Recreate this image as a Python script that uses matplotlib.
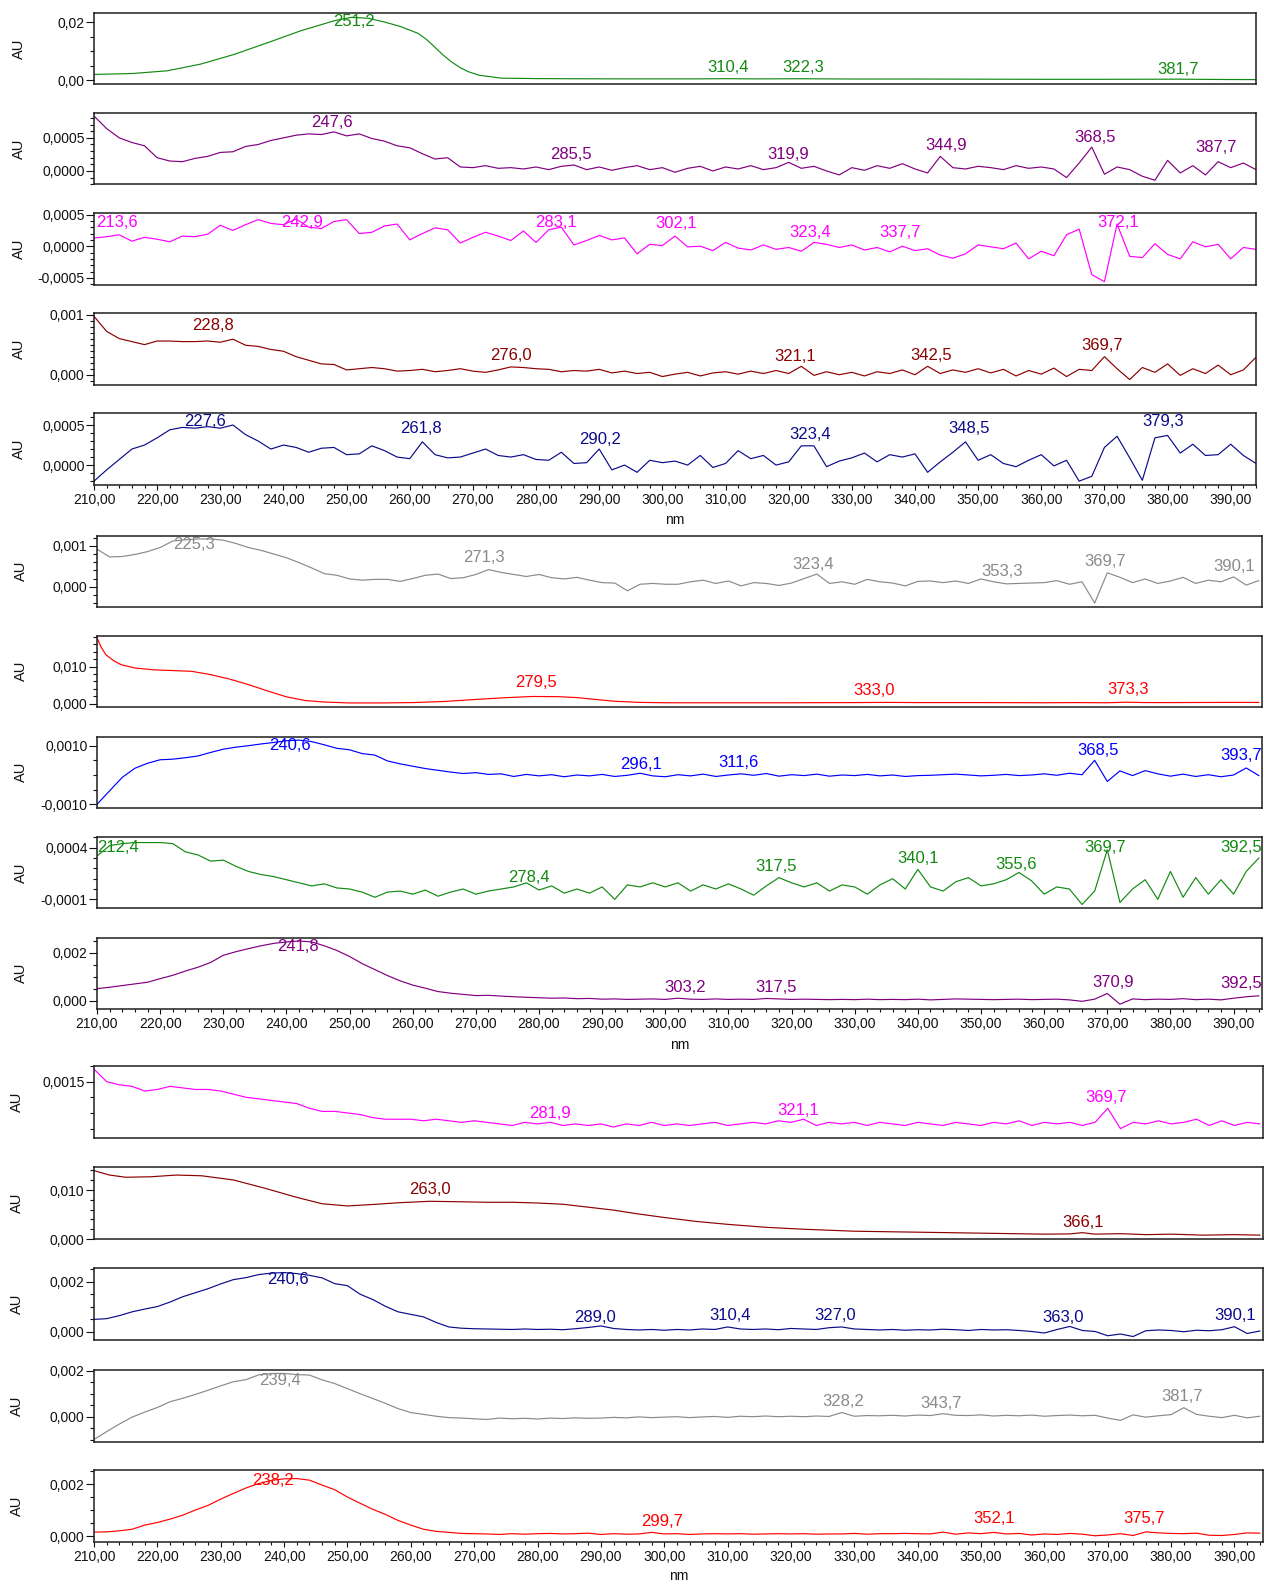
import numpy as np
import matplotlib
matplotlib.use("Agg")
import matplotlib.pyplot as plt
import matplotlib.transforms as mtransforms
from matplotlib.ticker import FixedLocator, MultipleLocator, NullLocator

plt.rcParams["font.family"] = ["Liberation Sans", "DejaVu Sans"]

# ======================= DATA =======================
# Noisy spectra are sampled on a regular wavelength grid (nm)
GRID_START_NM = 210.0
GRID_STEP_NM = 2.0

# Panel 1 (smooth) - wavelengths (nm) and absorbance (AU x 1e-3)
p01_nm = [210, 216.2, 221.6, 226.9, 232.2, 237.5, 242.8, 248.1, 250.7, 253.4,
          256, 258.6, 261.3, 262.6, 263.9, 265.2, 266.6, 268, 269.3, 271,
          274.5, 280, 285, 295, 305, 310, 315, 322, 330, 340,
          350, 360, 370, 381.7, 388, 394]
p01_au_e3 = [2.07, 2.41, 3.33, 5.63, 8.97, 12.99, 17.13, 20.57, 21.7, 21.4,
             20.1, 18.5, 16.2, 14.2, 11.6, 8.9, 6.4, 4.4, 3.0, 1.8,
             0.8, 0.65, 0.6, 0.55, 0.55, 0.62, 0.55, 0.6, 0.5, 0.5,
             0.45, 0.4, 0.4, 0.45, 0.35, 0.3]

# Panels on the 2 nm grid - absorbance in AU x 1e-4
p02_au_e4 = [8.3, 6.4, 5.0, 4.3, 3.8, 2.0, 1.5, 1.4, 1.9, 2.2,
             2.8, 2.9, 3.7, 4.0, 4.6, 5.0, 5.4, 5.6, 5.5, 5.9,
             5.3, 5.6, 4.9, 4.5, 3.8, 3.5, 2.6, 1.8, 2.0, 0.6,
             0.5, 0.8, 0.4, 0.5, 0.3, 0.6, 0.2, 0.7, 0.9, 0.2,
             0.6, 0.1, 0.5, 0.8, 0.2, 0.5, -0.2, 0.4, 0.7, 0.0,
             0.6, 0.3, 0.8, 0.2, 0.5, 1.3, 0.4, 0.7, 0.0, -0.6,
             0.5, 0.1, 0.8, 0.4, 1.1, 0.3, -0.3, 2.2, 0.5, 0.3,
             0.7, 0.5, 0.2, 0.8, 0.4, 0.6, 0.3, -1.0, 1.2, 3.6,
             -0.5, 0.6, 0.2, -0.8, -1.4, 1.6, -0.3, 0.8, -0.6, 1.4,
             0.5, 1.2, 0.2]

p03_au_e4 = [1.3, 1.5, 1.8, 0.8, 1.4, 1.1, 0.7, 1.6, 1.5, 1.9,
             3.3, 2.5, 3.4, 4.2, 3.6, 3.4, 4.3, 3.0, 2.8, 3.9,
             4.2, 2.0, 2.2, 3.2, 3.5, 1.0, 2.0, 2.9, 2.6, 0.5,
             1.4, 2.2, 1.6, 0.9, 2.4, 0.6, 2.6, 3.0, 0.2, 0.9,
             1.7, 1.0, 1.3, -1.2, 0.3, 0.1, 1.6, -0.1, 0.0, -0.7,
             0.6, -0.3, -0.6, 0.2, -0.5, -0.2, -0.8, 0.6, 0.3, -0.2,
             0.2, -0.6, -0.2, -0.9, 0.0, -0.7, -0.4, -1.4, -1.9, -1.2,
             0.2, -0.1, -0.4, 0.5, -2.0, -0.8, -1.5, 1.8, 2.7, -4.5,
             -5.6, 3.5, -1.6, -1.8, 0.4, -1.3, -2.0, 0.7, -0.1, 0.3,
             -2.0, -0.2, -0.5]

p04_au_e4 = [9.7, 7.2, 6.0, 5.5, 5.0, 5.6, 5.6, 5.5, 5.5, 5.6,
             5.4, 5.9, 4.9, 4.7, 4.2, 3.9, 3.0, 2.4, 1.8, 1.7,
             0.8, 1.0, 1.2, 1.0, 0.6, 0.7, 0.9, 0.5, 0.7, 1.0,
             0.6, 0.4, 0.8, 1.3, 1.2, 1.0, 0.9, 0.5, 0.7, 0.6,
             0.9, 0.3, 0.6, 0.2, 0.4, -0.3, 0.1, 0.4, -0.2, 0.3,
             0.5, 0.1, 0.6, 0.2, 0.7, 0.2, 1.4, -0.1, 0.5, 0.0,
             0.4, -0.2, 0.5, 0.2, 0.8, 0.0, 1.4, 0.2, 0.8, 0.4,
             1.0, 0.3, 0.9, -0.2, 0.7, 0.1, 1.1, -0.3, 0.9, 0.7,
             3.0, 1.0, -0.8, 1.2, 0.4, 1.8, -0.1, 1.0, 0.2, 1.6,
             0.0, 0.8, 2.9]

p05_au_e4 = [-2.0, -0.6, 0.7, 2.0, 2.5, 3.4, 4.4, 4.7, 4.6, 4.8,
             4.6, 5.0, 3.8, 3.0, 2.0, 2.5, 2.2, 1.6, 2.1, 2.2,
             1.3, 1.4, 2.4, 1.8, 1.0, 0.8, 2.9, 1.3, 0.9, 1.0,
             1.5, 2.0, 1.2, 1.0, 1.3, 0.7, 0.6, 1.6, 0.2, 0.3,
             2.0, -0.6, 0.0, -0.9, 0.6, 0.3, 0.5, 0.0, 1.2, -0.3,
             0.2, 1.8, 0.8, 1.2, 0.0, 0.4, 2.4, 2.4, -0.2, 0.5,
             0.9, 1.5, 0.4, 1.3, 1.0, 1.4, -0.9, 0.4, 1.6, 2.9,
             0.6, 1.3, 0.2, -0.2, 0.6, 1.3, -0.1, 0.6, -2.0, -1.4,
             2.2, 3.6, 0.9, -1.9, 3.4, 3.7, 1.5, 2.6, 1.2, 1.3,
             2.6, 1.2, 0.2]

p06_au_e4 = [9.2, 7.3, 7.4, 7.9, 8.6, 9.6, 11.2, 11.5, 11.7, 11.7,
             11.4, 10.6, 9.6, 8.9, 8.0, 7.1, 5.9, 4.6, 3.2, 2.8,
             1.9, 1.6, 1.8, 1.8, 1.3, 2.0, 2.8, 3.1, 2.0, 2.2,
             3.0, 4.2, 3.5, 3.0, 2.5, 3.0, 2.2, 1.9, 2.3, 1.6,
             1.0, 0.9, -1.0, 0.6, 0.8, 0.6, 0.6, 1.2, 1.6, 0.8,
             1.4, 0.2, 1.0, 0.8, 0.3, 0.9, 2.0, 3.1, 0.8, 1.2,
             0.6, 1.8, 1.2, 0.9, 0.2, 1.3, 1.4, 1.0, 1.4, 0.8,
             1.9, 1.2, 0.7, 0.8, 0.9, 1.0, 1.5, 0.6, 1.2, -4.0,
             3.4, 2.3, 1.0, 1.9, 0.8, 1.4, 2.3, 0.8, 1.6, 1.2,
             2.4, 0.4, 1.5]

# Panel 7 (smooth) - AU x 1e-3
p07_nm = [210, 210.6, 211.4, 212.6, 213.8, 216, 219, 222, 225, 228,
          231, 234, 237, 240, 243, 246, 250, 255, 260, 265,
          270, 275, 279, 283, 286, 289, 292, 296, 300, 310,
          320, 330, 335, 340, 350, 360, 365, 370, 373, 376,
          380, 390, 394]
p07_au_e3 = [17.8, 15.4, 13.2, 11.6, 10.5, 9.6, 9.1, 8.9, 8.7, 7.8,
             6.6, 5.1, 3.4, 1.8, 0.8, 0.4, 0.15, 0.15, 0.25, 0.55,
             1.1, 1.6, 1.9, 1.85, 1.6, 1.1, 0.6, 0.3, 0.2, 0.2,
             0.2, 0.25, 0.3, 0.25, 0.25, 0.2, 0.25, 0.2, 0.35, 0.25,
             0.25, 0.3, 0.3]

p08_au_e4 = [-10.0, -5.4, -0.8, 2.3, 4.0, 5.2, 5.4, 5.9, 6.5, 7.7,
             8.8, 9.5, 10.0, 10.6, 11.1, 11.7, 11.9, 11.4, 10.3, 9.1,
             8.6, 7.3, 6.8, 4.8, 3.8, 3.0, 2.2, 1.6, 1.0, 0.5,
             0.8, 0.2, 0.4, -0.5, 0.2, -0.3, 0.1, -0.6, 0.0, -0.3,
             0.2, -0.5, -0.1, 0.6, -0.3, -0.6, 0.1, -0.3, 0.3, -0.5,
             0.0, 0.4, -0.1, 0.5, -0.4, 0.1, -0.2, 0.3, -0.4, 0.0,
             -0.2, 0.2, -0.3, 0.0, -0.5, -0.2, -0.1, 0.1, 0.3, 0.0,
             -0.3, -0.1, 0.2, -0.2, 0.0, 0.4, -0.1, 0.6, 0.1, 5.0,
             -2.2, 1.4, -0.2, 1.5, 0.4, -0.4, 0.3, -0.5, 0.1, -0.6,
             0.0, 2.4, -0.2]

p09_au_e4 = [3.2, 4.2, 4.4, 4.5, 4.5, 4.5, 4.4, 3.6, 3.3, 2.7,
             2.8, 2.2, 1.7, 1.4, 1.2, 0.9, 0.6, 0.3, 0.5, 0.1,
             0.0, -0.3, -0.8, -0.3, -0.2, -0.5, -0.1, -0.7, -0.3, 0.0,
             -0.5, -0.2, 0.0, 0.2, 0.6, -0.1, 0.3, -0.4, 0.0, -0.4,
             0.2, -1.0, 0.4, 0.2, 0.6, 0.2, 0.6, -0.2, 0.4, 0.0,
             0.5, 0.0, -0.6, 0.3, 1.1, 0.6, 0.2, 0.6, -0.2, 0.4,
             0.2, -0.5, 0.4, 1.0, 0.0, 1.9, 0.2, -0.2, 0.7, 1.1,
             0.3, 0.5, 0.9, 1.6, 0.8, -0.5, 0.2, 0.0, -1.5, -0.2,
             3.8, -1.3, 0.0, 0.9, -1.0, 1.7, -0.8, 1.1, -0.5, 0.9,
             -0.5, 1.7, 3.0]

p10_au_e4 = [5.0, 5.6, 6.3, 7.0, 7.7, 9.2, 10.6, 12.4, 14.0, 16.0,
             19.0, 20.5, 21.8, 23.0, 24.0, 24.6, 25.0, 24.6, 23.0, 21.0,
             18.5, 15.5, 13.0, 10.5, 8.3, 6.5, 5.2, 3.8, 3.1, 2.6,
             2.1, 2.2, 1.9, 1.6, 1.4, 1.2, 1.0, 1.1, 0.8, 0.9,
             0.6, 0.7, 0.5, 0.6, 0.7, 0.5, 1.0, 0.6, 0.5, 0.7,
             0.5, 0.6, 0.5, 0.9, 0.7, 0.5, 0.6, 0.5, 0.4, 0.5,
             0.4, 0.6, 0.4, 0.5, 0.4, 0.6, 0.3, 0.5, 0.7, 0.6,
             0.5, 0.4, 0.5, 0.6, 0.4, 0.5, 0.6, 0.3, -0.3, 0.6,
             3.0, -1.5, 0.7, 0.4, 0.6, 0.5, 0.8, 0.4, 0.6, 0.3,
             1.0, 1.6, 2.0]

p11_au_e4 = [15.8, 15.0, 14.8, 14.7, 14.4, 14.5, 14.7, 14.6, 14.5, 14.5,
             14.4, 14.2, 14.0, 13.9, 13.8, 13.7, 13.6, 13.3, 13.1, 13.1,
             13.0, 12.9, 12.7, 12.6, 12.6, 12.6, 12.5, 12.6, 12.5, 12.4,
             12.5, 12.4, 12.3, 12.2, 12.4, 12.3, 12.4, 12.2, 12.3, 12.2,
             12.3, 12.1, 12.3, 12.2, 12.4, 12.2, 12.3, 12.2, 12.3, 12.4,
             12.2, 12.3, 12.4, 12.3, 12.5, 12.4, 12.6, 12.2, 12.4, 12.3,
             12.4, 12.2, 12.4, 12.3, 12.2, 12.4, 12.3, 12.2, 12.4, 12.3,
             12.2, 12.4, 12.3, 12.5, 12.2, 12.4, 12.3, 12.4, 12.2, 12.4,
             13.3, 12.0, 12.4, 12.3, 12.5, 12.3, 12.4, 12.6, 12.2, 12.5,
             12.2, 12.4, 12.3]

# Panel 12 (smooth) - AU x 1e-3
p12_nm = [210, 212.4, 215, 219, 223, 227, 232, 237, 242, 246,
          250, 254, 258, 263, 268, 272, 276, 280, 284, 288,
          292, 296, 300, 305, 310, 316, 322, 330, 340, 350,
          360, 364, 366, 368, 372, 376, 380, 385, 390, 394]
p12_au_e3 = [13.95, 13.06, 12.6, 12.7, 13.05, 12.9, 12.05, 10.35, 8.5, 7.2,
             6.75, 7.05, 7.4, 7.7, 7.6, 7.5, 7.5, 7.35, 7.1, 6.5,
             5.9, 5.1, 4.4, 3.6, 3.0, 2.4, 2.0, 1.6, 1.4, 1.2,
             1.0, 1.05, 1.3, 1.0, 1.1, 0.9, 1.0, 0.8, 0.9, 0.8]

p13_au_e4 = [5.0, 5.3, 6.5, 8.0, 9.1, 10.1, 11.9, 14.0, 15.6, 17.2,
             19.1, 20.8, 21.6, 22.8, 23.4, 23.6, 23.2, 22.5, 21.5, 19.2,
             18.4, 15.0, 12.9, 10.2, 8.0, 7.0, 6.0, 3.8, 2.0, 1.5,
             1.3, 1.2, 1.1, 1.0, 1.2, 1.0, 1.1, 0.9, 1.3, 1.8,
             2.4, 1.4, 1.0, 0.8, 1.0, 0.7, 1.0, 0.8, 1.2, 1.0,
             2.0, 1.2, 1.0, 1.2, 0.9, 1.4, 1.2, 1.0, 1.7, 2.0,
             1.2, 1.0, 0.8, 1.0, 0.7, 0.9, 0.8, 1.1, 0.9, 0.6,
             1.0, 0.8, 0.9, 0.6, 0.2, -0.4, 1.0, 2.2, 0.6, 0.2,
             -1.5, -0.8, -1.8, 0.5, 0.8, 0.6, 0.1, 0.7, 0.5, 0.9,
             2.1, -0.6, 0.4]

p14_au_e4 = [-9.9, -6.5, -3.2, -0.2, 2.0, 4.0, 6.5, 8.0, 9.7, 11.5,
             13.4, 15.2, 16.1, 18.2, 18.8, 18.8, 18.3, 18.1, 16.0, 14.4,
             12.2, 10.0, 7.9, 5.8, 3.5, 1.8, 1.0, 0.2, -0.4, -0.6,
             -0.9, -1.2, -0.6, -0.9, -0.7, -1.0, -0.6, -0.8, -0.5, -0.7,
             -0.6, -0.3, -0.5, -0.1, -0.4, -0.2, 0.0, -0.4, -0.1, 0.1,
             -0.3, 0.2, 0.0, 0.3, 0.0, 0.2, 0.0, 0.3, 0.1, 1.8,
             0.2, 0.5, 0.4, 0.6, 0.3, 0.7, 0.5, 1.3, 0.6, 0.5,
             0.8, 0.3, 0.6, 0.4, 0.7, 0.2, 0.5, 0.7, 0.4, 0.6,
             -0.6, -1.6, 0.8, -0.2, 0.4, 0.9, 3.9, 1.0, 0.2, -0.4,
             0.6, -0.5, 0.2]

p15_au_e4 = [1.5, 1.6, 2.0, 2.6, 4.2, 5.2, 6.5, 8.0, 10.0, 11.8,
             14.2, 16.4, 18.5, 20.2, 21.4, 22.0, 22.1, 21.5, 19.6, 17.8,
             15.0, 12.6, 10.3, 8.3, 6.0, 4.2, 2.6, 1.8, 1.4, 1.0,
             0.9, 0.8, 0.6, 0.9, 0.7, 0.9, 1.0, 0.8, 0.9, 1.1,
             0.6, 0.9, 0.7, 0.8, 1.4, 0.8, 0.9, 0.6, 0.8, 0.9,
             0.8, 0.9, 0.7, 0.8, 0.9, 0.8, 0.9, 0.7, 0.8, 0.8,
             1.0, 0.7, 0.9, 0.9, 1.0, 0.9, 0.8, 1.5, 0.7, 1.2,
             0.9, 1.4, 0.8, 1.0, 0.4, 0.8, 0.6, 1.0, 0.7, 0.1,
             0.4, 0.9, 0.2, 1.6, 1.2, 1.0, 0.9, 1.1, 0.3, 0.2,
             0.6, 1.2, 1.1]

# Peak annotations (wavelength labels)
p01_peaks = ["251,2", "310,4", "322,3", "381,7"]
p02_peaks = ["247,6", "285,5", "319,9", "344,9", "368,5", "387,7"]
p03_peaks = ["213,6", "242,9", "283,1", "302,1", "323,4", "337,7", "372,1"]
p04_peaks = ["228,8", "276,0", "321,1", "342,5", "369,7"]
p05_peaks = ["227,6", "261,8", "290,2", "323,4", "348,5", "379,3"]
p06_peaks = ["225,3", "271,3", "323,4", "353,3", "369,7", "390,1"]
p07_peaks = ["279,5", "333,0", "373,3"]
p08_peaks = ["240,6", "296,1", "311,6", "368,5", "393,7"]
p09_peaks = ["212,4", "278,4", "317,5", "340,1", "355,6", "369,7", "392,5"]
p10_peaks = ["241,8", "303,2", "317,5", "370,9", "392,5"]
p11_peaks = ["281,9", "321,1", "369,7"]
p12_peaks = ["263,0", "366,1"]
p13_peaks = ["240,6", "289,0", "310,4", "327,0", "363,0", "390,1"]
p14_peaks = ["239,4", "328,2", "343,7", "381,7"]
p15_peaks = ["238,2", "299,7", "352,1", "375,7"]

# Y tick values / labels
p01_yt, p01_ytl = [0.0, 0.02], ["0,00", "0,02"]
p02_yt, p02_ytl = [0.0, 0.0005], ["0,0000", "0,0005"]
p03_yt, p03_ytl = [-0.0005, 0.0, 0.0005], ["-0,0005", "0,0000", "0,0005"]
p04_yt, p04_ytl = [0.0, 0.001], ["0,000", "0,001"]
p05_yt, p05_ytl = [0.0, 0.0005], ["0,0000", "0,0005"]
p06_yt, p06_ytl = [0.0, 0.001], ["0,000", "0,001"]
p07_yt, p07_ytl = [0.0, 0.01], ["0,000", "0,010"]
p08_yt, p08_ytl = [-0.001, 0.001], ["-0,0010", "0,0010"]
p09_yt, p09_ytl = [-0.0001, 0.0004], ["-0,0001", "0,0004"]
p10_yt, p10_ytl = [0.0, 0.002], ["0,000", "0,002"]
p11_yt, p11_ytl = [0.0015], ["0,0015"]
p12_yt, p12_ytl = [0.0, 0.01], ["0,000", "0,010"]
p13_yt, p13_ytl = [0.0, 0.002], ["0,000", "0,002"]
p14_yt, p14_ytl = [0.0, 0.002], ["0,000", "0,002"]
p15_yt, p15_ytl = [0.0, 0.002], ["0,000", "0,002"]

# ======================= STYLE / LAYOUT =======================
GREEN = "#128a12"
PURPLE = "#800080"
MAGENTA = "#ff00ff"
DARKRED = "#8b0000"
NAVY = "#0b0b8a"
GRAY = "#8a8a8a"
RED = "#ff0000"
BLUE = "#0000ff"

W, H = 1264, 1584
fig = plt.figure(figsize=(W / 100, H / 100), dpi=100)


def grid_nm(vals):
    return GRID_START_NM + GRID_STEP_NM * np.arange(len(vals))


panels = [
    dict(nm=p01_nm, au=np.array(p01_au_e3) * 1e-3, color=GREEN, ylim=(-0.00128, 0.0233),
         yt=p01_yt, ytl=p01_ytl, minor=0.005, peaks=p01_peaks, pky=[0.87, 0.23, 0.23, 0.20]),
    dict(nm=grid_nm(p02_au_e4), au=np.array(p02_au_e4) * 1e-4, color=PURPLE, ylim=(-0.0002, 0.00088),
         yt=p02_yt, ytl=p02_ytl, minor=0.0001, peaks=p02_peaks, pky=[0.86, 0.42, 0.42, 0.54, 0.66, 0.51]),
    dict(nm=grid_nm(p03_au_e4), au=np.array(p03_au_e4) * 1e-4, color=MAGENTA, ylim=(-0.00061, 0.00052),
         yt=p03_yt, ytl=p03_ytl, minor=0.0001, peaks=p03_peaks, pky=[0.87, 0.87, 0.87, 0.86, 0.73, 0.73, 0.87]),
    dict(nm=grid_nm(p04_au_e4), au=np.array(p04_au_e4) * 1e-4, color=DARKRED, ylim=(-0.000167, 0.00102),
         yt=p04_yt, ytl=p04_ytl, minor=0.0001, peaks=p04_peaks, pky=[0.83, 0.41, 0.40, 0.41, 0.55]),
    dict(nm=grid_nm(p05_au_e4), au=np.array(p05_au_e4) * 1e-4, color=NAVY, ylim=(-0.000246, 0.000646),
         yt=p05_yt, ytl=p05_ytl, minor=0.0001, peaks=p05_peaks, pky=[0.89, 0.79, 0.64, 0.70, 0.79, 0.89]),
    dict(nm=grid_nm(p06_au_e4), au=np.array(p06_au_e4) * 1e-4, color=GRAY, ylim=(-0.00049, 0.00125),
         yt=p06_yt, ytl=p06_ytl, minor=0.0002, peaks=p06_peaks, pky=[0.87, 0.69, 0.59, 0.50, 0.63, 0.56]),
    dict(nm=p07_nm, au=np.array(p07_au_e3) * 1e-3, color=RED, ylim=(-0.00081, 0.01838),
         yt=p07_yt, ytl=p07_ytl, minor=0.002, peaks=p07_peaks, pky=[0.34, 0.23, 0.24]),
    dict(nm=grid_nm(p08_au_e4), au=np.array(p08_au_e4) * 1e-4, color=BLUE, ylim=(-0.001116, 0.001307),
         yt=p08_yt, ytl=p08_ytl, minor=0.0005, peaks=p08_peaks, pky=[0.87, 0.61, 0.63, 0.81, 0.73]),
    dict(nm=grid_nm(p09_au_e4), au=np.array(p09_au_e4) * 1e-4, color=GREEN, ylim=(-0.000187, 0.000501),
         yt=p09_yt, ytl=p09_ytl, minor=0.0001, peaks=p09_peaks, pky=[0.86, 0.43, 0.59, 0.70, 0.61, 0.86, 0.86]),
    dict(nm=grid_nm(p10_au_e4), au=np.array(p10_au_e4) * 1e-4, color=PURPLE, ylim=(-0.00034, 0.002638),
         yt=p10_yt, ytl=p10_ytl, minor=0.0005, peaks=p10_peaks, pky=[0.87, 0.30, 0.30, 0.37, 0.36]),
    dict(nm=grid_nm(p11_au_e4), au=np.array(p11_au_e4) * 1e-4, color=MAGENTA, ylim=(0.00114, 0.0016),
         yt=p11_yt, ytl=p11_ytl, minor=0.0001, peaks=p11_peaks, pky=[0.34, 0.38, 0.56]),
    dict(nm=p12_nm, au=np.array(p12_au_e3) * 1e-3, color=DARKRED, ylim=(-0.00005, 0.01463),
         yt=p12_yt, ytl=p12_ytl, minor=0.002, peaks=p12_peaks, pky=[0.69, 0.23]),
    dict(nm=grid_nm(p13_au_e4), au=np.array(p13_au_e4) * 1e-4, color=NAVY, ylim=(-0.00033, 0.00253),
         yt=p13_yt, ytl=p13_ytl, minor=0.0005, peaks=p13_peaks, pky=[0.85, 0.32, 0.34, 0.34, 0.32, 0.34]),
    dict(nm=grid_nm(p14_au_e4), au=np.array(p14_au_e4) * 1e-4, color=GRAY, ylim=(-0.0011, 0.00203),
         yt=p14_yt, ytl=p14_ytl, minor=0.0005, peaks=p14_peaks, pky=[0.86, 0.56, 0.54, 0.63]),
    dict(nm=grid_nm(p15_au_e4), au=np.array(p15_au_e4) * 1e-4, color=RED, ylim=(-0.00023, 0.00254),
         yt=p15_yt, ytl=p15_ytl, minor=0.0005, peaks=p15_peaks, pky=[0.85, 0.28, 0.32, 0.32]),
]

# groups: left px, right px, x max (nm), panel tops px, panel height px, AU label centre x px, nm label y px
groups = [
    (94, 1256, 394.0, [12.7, 112.7, 213.3, 313.3, 413.3], 71.5, 18.5, 520),
    (97, 1262, 394.5, [535.7, 635.5, 736.7, 837.3, 937.7], 71.0, 20.5, 1045),
    (94, 1263, 394.5, [1066, 1167.3, 1268.3, 1370, 1470], 72.0, 17.0, 1576),
]
XMIN = 210.0
FRAME = "#1e1e1e"

idx = 0
for (left, right, xmax, tops, hgt, au_x, nm_y) in groups:
    for k, top in enumerate(tops):
        p = panels[idx]
        idx += 1
        ax = fig.add_axes([left / W, 1 - (top + hgt) / H, (right - left) / W, hgt / H])
        ax.plot(p["nm"], p["au"], color=p["color"], lw=0.85)
        ax.set_xlim(XMIN, xmax)
        ax.set_ylim(*p["ylim"])
        for s in ax.spines.values():
            s.set_color(FRAME)
            s.set_linewidth(1.1)
        ax.yaxis.set_major_locator(FixedLocator(p["yt"]))
        ax.set_yticklabels(p["ytl"])
        ax.yaxis.set_minor_locator(MultipleLocator(p["minor"]))
        ax.tick_params(axis="y", which="major", length=5.8, width=0.8, labelsize=10,
                       pad=1, direction="out", colors="#111111")
        ax.tick_params(axis="y", which="minor", length=2.9, width=0.8, direction="out",
                       colors="#111111")
        bottom_panel = (k == len(tops) - 1)
        if bottom_panel:
            ax.xaxis.set_major_locator(MultipleLocator(10))
            ax.xaxis.set_minor_locator(MultipleLocator(2))
            ax.xaxis.set_major_formatter(
                plt.FuncFormatter(lambda v, pos: f"{v:.2f}".replace(".", ",")))
            ax.tick_params(axis="x", which="major", length=3.8, width=0.8, labelsize=10,
                           pad=2, direction="out", colors="#111111")
            ax.tick_params(axis="x", which="minor", length=2.2, width=0.8, direction="out",
                           colors="#111111")
            fig.text((left + right) / 2 / W, 1 - nm_y / H, "nm", ha="center", va="center",
                     fontsize=10, color="#111111")
        else:
            ax.xaxis.set_major_locator(NullLocator())
            ax.xaxis.set_minor_locator(NullLocator())
        # "AU" centred at au_x pixels from the left of the figure
        fig.text(au_x / W, 1 - (top + hgt / 2) / H, "AU", rotation=90, ha="center",
                 va="center", fontsize=10.5, color="#111111")

        trans = mtransforms.blended_transform_factory(ax.transData, ax.transAxes)
        for lab, yf in zip(p["peaks"], p["pky"]):
            xv = float(lab.replace(",", "."))
            xv = min(max(xv, XMIN + 3.3), xmax - 3.3)
            ax.text(xv, yf, lab, transform=trans, ha="center", va="center",
                    fontsize=12, color=p["color"], clip_on=False)

fig.savefig("out.png", dpi=100)
